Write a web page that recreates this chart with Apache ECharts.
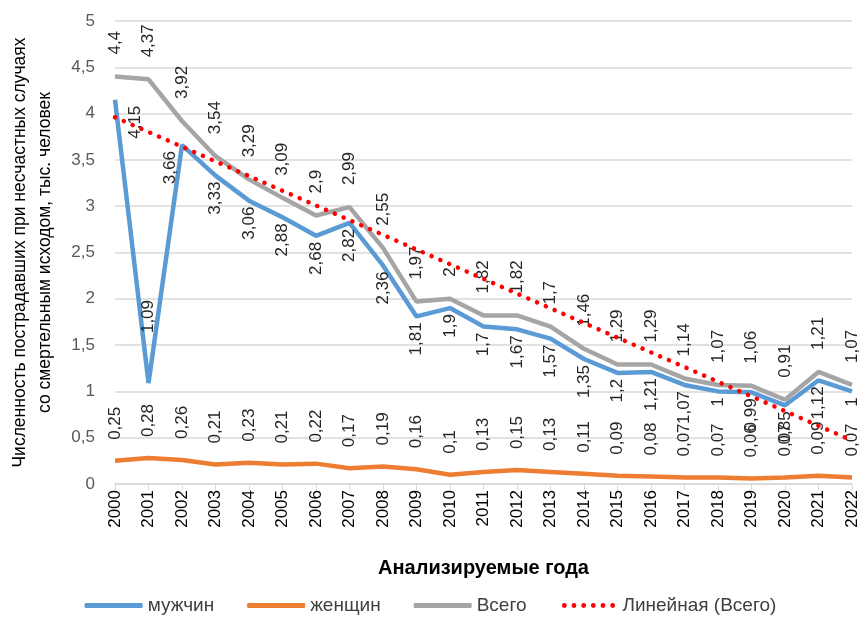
<!DOCTYPE html>
<html><head><meta charset="utf-8">
<script src="https://cdn.jsdelivr.net/npm/echarts@6/dist/echarts.min.js"></script>
<style>html,body{margin:0;padding:0;background:#fff}#c{width:861px;height:620px}</style>
</head><body><div id="c"></div>
<script>
const years = ['2000','2001','2002','2003','2004','2005','2006','2007','2008','2009','2010','2011','2012','2013','2014','2015','2016','2017','2018','2019','2020','2021','2022'];
const men = [4.15,1.09,3.66,3.33,3.06,2.88,2.68,2.82,2.36,1.81,1.9,1.7,1.67,1.57,1.35,1.2,1.21,1.07,1,0.99,0.85,1.12,1];
const women = [0.25,0.28,0.26,0.21,0.23,0.21,0.22,0.17,0.19,0.16,0.1,0.13,0.15,0.13,0.11,0.09,0.08,0.07,0.07,0.06,0.07,0.09,0.07];
const total = [4.4,4.37,3.92,3.54,3.29,3.09,2.9,2.99,2.55,1.97,2,1.82,1.82,1.7,1.46,1.29,1.29,1.14,1.07,1.06,0.91,1.21,1.07];
const trendStart = 3.96, trendEnd = 0.47;
const seriesNames = ['мужчин','женщин','Всего','Линейная (Всего)'];

const FONT = 'Liberation Sans';
const NUM = 17;
const fmt = v => String(v).replace('.', ',');
const labelFmt = p => fmt(p.value);

const trendData = years.map((y,i) => i === 0 ? trendStart : (i === years.length-1 ? trendEnd : null));
const menLabelTweaks = {
  0: {offset:[0,20]},
  1: {position:'top', align:'left', distance:50},
  2: {offset:[0,-12]}
};
const menData = men.map((v,i) => menLabelTweaks[i] ? {value:v, label:menLabelTweaks[i]} : v);

const dots = [5,15,25,35,45,55].map(cx => `M${cx-2.5},2.5a2.5,2.5 0 1,0 5,0a2.5,2.5 0 1,0 -5,0`).join('');
const dotIcon = 'path://M0,2.5L0,2.5' + dots + 'M60,2.5L60,2.5';

const lblBase = {show:true, rotate:90, verticalAlign:'middle', fontSize:NUM, color:'#262626', fontFamily:FONT, formatter:labelFmt};

const chart = echarts.init(document.getElementById('c'), null, {renderer:'canvas'});
chart.setOption({
  animation:false,
  textStyle:{fontFamily:FONT},
  grid:{left:115, right:9, top:21, bottom:136, containLabel:false},
  legend:{
    bottom:0, left:'center', itemWidth:58, itemHeight:5, itemGap:33,
    textStyle:{fontFamily:FONT, fontSize:19, color:'#404040'},
    data:[
      {name:seriesNames[0], icon:'roundRect'},
      {name:seriesNames[1], icon:'roundRect'},
      {name:seriesNames[2], icon:'roundRect'},
      {name:seriesNames[3], icon:dotIcon}
    ]
  },
  xAxis:{
    type:'category', data:years, boundaryGap:false,
    name:'Анализируемые года', nameLocation:'middle', nameGap:74,
    nameTextStyle:{fontFamily:FONT, fontSize:20, fontWeight:'bold', color:'#000'},
    axisLine:{lineStyle:{color:'#d9d9d9', width:1.5}},
    axisTick:{show:true, alignWithLabel:true, length:6, lineStyle:{color:'#d9d9d9'}},
    axisLabel:{rotate:90, fontSize:NUM, color:'#000', margin:6, fontFamily:FONT}
  },
  yAxis:{
    type:'value', min:0, max:5, interval:0.5,
    name:'Численность пострадавших при несчастных случаях\nсо смертельным исходом, тыс. человек',
    nameLocation:'middle', nameGap:57,
    nameTextStyle:{fontFamily:FONT, fontSize:17.5, color:'#000', lineHeight:25},
    axisLine:{show:false}, axisTick:{show:false},
    axisLabel:{fontSize:NUM, color:'#595959', margin:20, fontFamily:FONT, formatter:v => fmt(v)},
    splitLine:{lineStyle:{color:'#d9d9d9', width:1.5}}
  },
  series:[
    {name:seriesNames[0], type:'line', data:menData, symbol:'circle', symbolSize:0.01, showSymbol:true, z:2,
     lineStyle:{color:'#5B9BD5', width:4.5}, itemStyle:{color:'#5B9BD5'},
     label:Object.assign({}, lblBase, {position:'bottom', align:'right', distance:6})},
    {name:seriesNames[1], type:'line', data:women, symbol:'circle', symbolSize:0.01, showSymbol:true, z:2,
     lineStyle:{color:'#ED7D31', width:4.5}, itemStyle:{color:'#ED7D31'},
     label:Object.assign({}, lblBase, {position:'top', align:'left', distance:21})},
    {name:seriesNames[2], type:'line', data:total, symbol:'circle', symbolSize:0.01, showSymbol:true, z:1,
     lineStyle:{color:'#A5A5A5', width:4.5}, itemStyle:{color:'#A5A5A5'},
     label:Object.assign({}, lblBase, {position:'top', align:'left', distance:22})},
    {name:seriesNames[3], type:'line', data:trendData, connectNulls:true, symbol:'none', z:3,
     lineStyle:{color:'#FF0000', width:4.5, type:[0.1,9.5], cap:'round'}, itemStyle:{color:'#FF0000'}}
  ]
});
</script></body></html>
